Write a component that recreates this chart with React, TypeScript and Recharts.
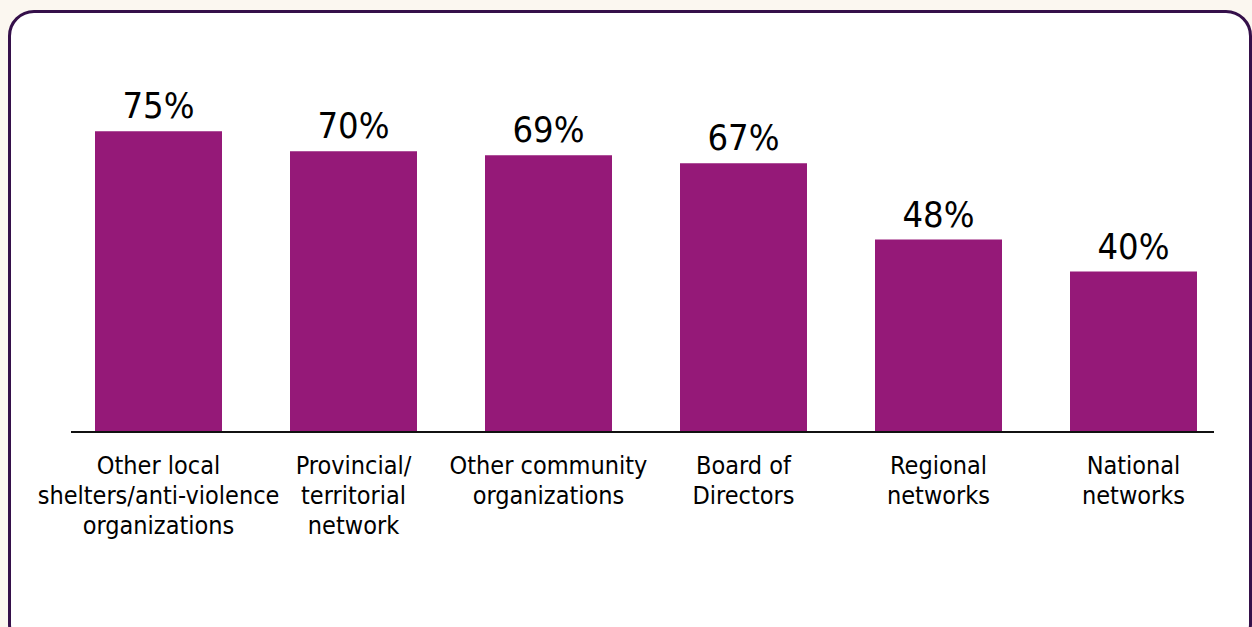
import { Bar, BarChart, LabelList, ReferenceLine, XAxis, YAxis } from 'recharts';

const categories = [
    'Other local\nshelters/anti-violence\norganizations',
    'Provincial/\nterritorial\nnetwork',
    'Other community\norganizations',
    'Board of\nDirectors',
    'Regional\nnetworks',
    'National\nnetworks',
];
const percents = [75, 70, 69, 67, 48, 40];

const FONT = '"Liberation Sans Narrow", "DejaVu Sans Condensed", "Roboto", sans-serif';
const BAR_COLOR = '#951978';

const chartData = categories.map((name, i) => ({ name, value: percents[i] }));

function CategoryTick(props: any) {
    const { x, y, payload } = props;
    const lines: string[] = String(payload.value).split('\n');
    return (
        <text x={x} y={y} textAnchor="middle" fill="#000" fontFamily={FONT} fontSize={25}>
            {lines.map((line, i) => (
                <tspan key={i} x={x} dy={i === 0 ? 34 : 30}>
                    {line}
                </tspan>
            ))}
        </text>
    );
}

function AxisLine(props: any) {
    const { x1, x2, y1 } = props;
    return <line x1={x1 + 10} x2={x2 - 17} y1={y1} y2={y1} stroke="#111" strokeWidth={2} />;
}

export default function App() {
    return (
        <div style={{ position: 'fixed', inset: 0, background: '#FBF7F0', overflow: 'hidden' }}>
            <div
                style={{
                    position: 'absolute',
                    left: 8,
                    top: 10,
                    width: 1244,
                    height: 640,
                    background: '#fff',
                    border: '3px solid #35104A',
                    borderRadius: 26,
                    boxSizing: 'border-box',
                }}
            />
            <div style={{ position: 'absolute', left: 0, top: 0 }}>
                <BarChart
                    width={1252}
                    height={627}
                    data={chartData}
                    margin={{ top: 31, right: 21, left: 61, bottom: 75 }}
                >
                    <XAxis
                        dataKey="name"
                        axisLine={false}
                        tickLine={false}
                        height={120}
                        interval={0}
                        tick={<CategoryTick />}
                    />
                    <YAxis hide domain={[0, 100]} width={0} />
                    <Bar dataKey="value" fill={BAR_COLOR} barSize={127} isAnimationActive={false}>
                        <LabelList
                            dataKey="value"
                            position="top"
                            offset={13}
                            formatter={(v: any) => `${v}%`}
                            style={{ fontFamily: FONT, fontSize: 36, fill: '#000' }}
                        />
                    </Bar>
                    <ReferenceLine y={0} shape={<AxisLine />} />
                </BarChart>
            </div>
        </div>
    );
}
